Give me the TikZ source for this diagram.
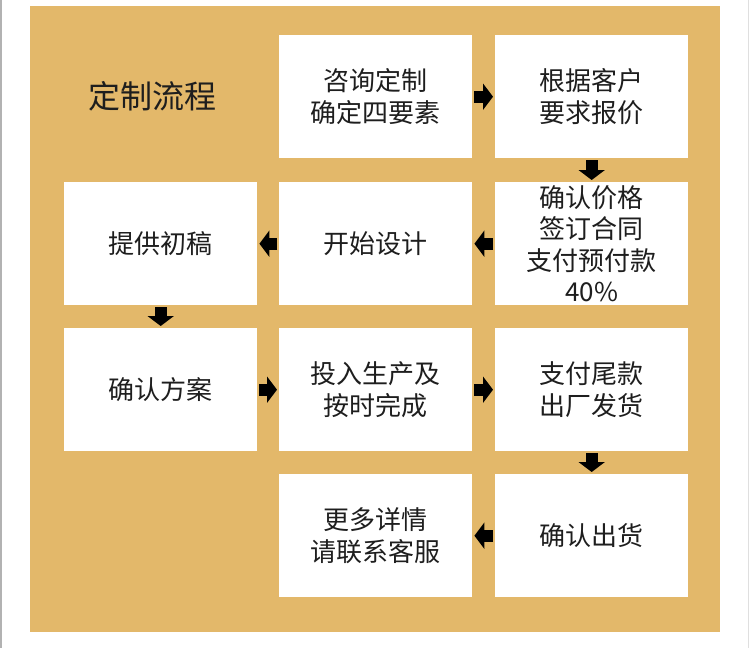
\documentclass[tikz,border=0pt]{standalone}
\usepackage{fontspec}
\setmainfont{Noto Sans CJK SC}
\usetikzlibrary{arrows.meta}
\definecolor{panel}{HTML}{E3B86A}
\definecolor{ink}{HTML}{1E1E1E}
\begin{document}
\begin{tikzpicture}[x=1pt,y=-1pt,
  box/.style={fill=white, minimum width=193pt, minimum height=123pt, anchor=north west,
    inner sep=0pt, align=center, font=\fontsize{26}{31.5}\selectfont, text=ink},
  flow/.style={line width=12pt, draw=black, -{Triangle[length=10pt,width=26pt]},
    shorten <=2pt, shorten >=2pt}]
\useasboundingbox (0,0) rectangle (750,648);
\fill[white] (0,0) rectangle (750,648);
\draw[gray!60, line width=1.5pt] (0.75,0) -- (0.75,648);
\draw[gray!25, line width=1pt] (748,0) -- (748,648);
\fill[panel] (30,6) rectangle (720,632);
\node[font=\fontsize{32}{36}\selectfont, text=ink] (title) at (152,96) {定制流程};
% row 1
\node[box] (a) at (279,35) {咨询定制\\确定四要素};
\node[box] (b) at (495,35) {根据客户\\要求报价};
% row 2
\node[box] (c) at (495,182) {确认价格\\签订合同\\支付预付款\\40\%};
\node[box] (d) at (279,182) {开始设计};
\node[box] (e) at (64,182) {提供初稿};
% row 3
\node[box] (f) at (64,328) {确认方案};
\node[box] (g) at (279,328) {投入生产及\\按时完成};
\node[box] (h) at (495,328) {支付尾款\\出厂发货};
% row 4
\node[box] (i) at (495,474) {确认出货};
\node[box] (j) at (279,474) {更多详情\\请联系客服};
% arrows
\draw[flow] (a.east) -- (b.west);
\draw[flow] (b.south) -- (c.north);
\draw[flow] (c.west) -- (d.east);
\draw[flow] (d.west) -- (e.east);
\draw[flow] (e.south) -- (f.north);
\draw[flow] (f.east) -- (g.west);
\draw[flow] (g.east) -- (h.west);
\draw[flow] (h.south) -- (i.north);
\draw[flow] (i.west) -- (j.east);
\end{tikzpicture}
\end{document}
